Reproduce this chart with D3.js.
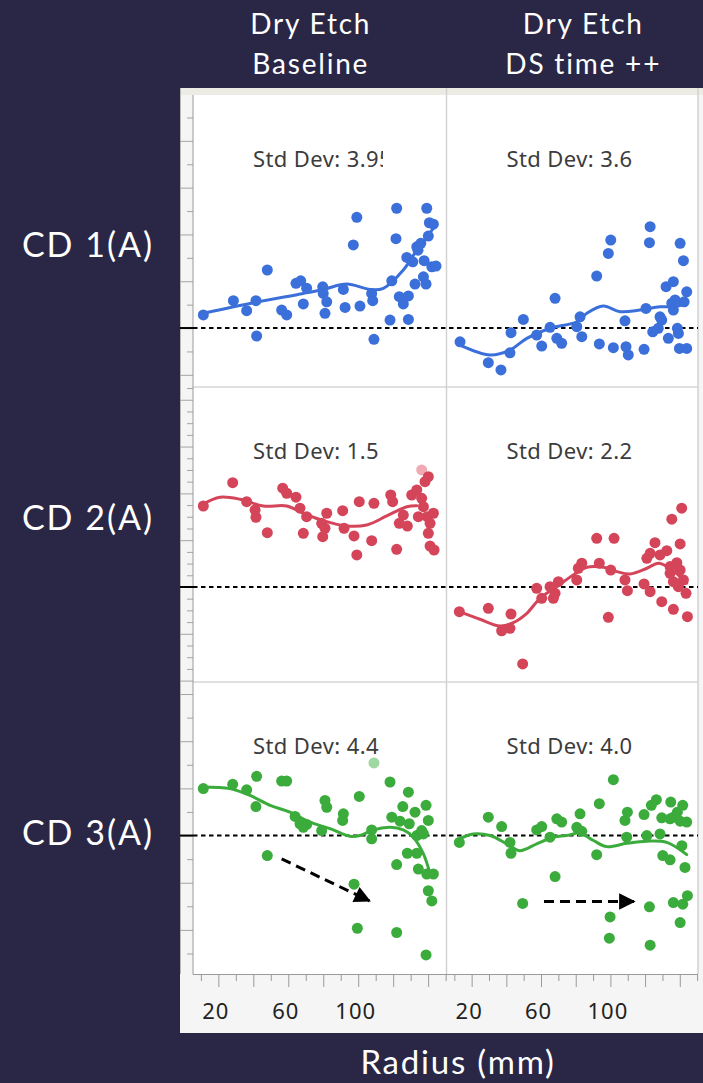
<!DOCTYPE html>
<html>
<head>
<meta charset="utf-8">
<script src="https://cdn.jsdelivr.net/npm/d3@7"></script>
<style>
  html, body { margin: 0; padding: 0; background: #2a2746; }
  svg { display: block; }
</style>
</head>
<body>
<svg id="chart" width="703" height="1083"></svg>
<script>
// ---------- data: radius (mm) vs CD offset from target (A) ----------
const columnTitles = [["Dry Etch", "Baseline"], ["Dry Etch", "DS time ++"]];
const rowTitles = ["CD 1(A)", "CD 2(A)", "CD 3(A)"];
const stdDevLabels = [["3.95", "3.6"], ["1.5", "2.2"], ["4.4", "4.0"]];
const xTickLabels = [20, 60, 100];

const cd1Baseline = [[11.4,0.56],[28.6,1.17],[36.2,0.74],[41.5,1.17],[41.9,-0.34],[48.0,2.48],[56.2,0.77],[59.1,0.56],[64.4,1.91],[67.1,2.02],[70.5,1.70],[68.6,1.03],[79.7,1.76],[80.0,1.48],[82.0,1.12],[81.0,0.63],[91.5,1.65],[92.5,0.88],[99.2,4.73],[97.2,3.55],[101.0,0.94],[107.7,1.48],[108.3,1.17],[109.0,-0.48],[118.2,0.34],[119.2,2.02],[122.0,5.12],[121.6,3.82],[123.5,1.34],[125.8,1.03],[128.7,1.37],[128.7,0.37],[127.8,3.02],[132.5,1.88],[133.5,3.47],[135.8,3.62],[137.3,2.19],[138.8,1.88],[139.2,5.12],[140.7,4.50],[143.0,4.44],[140.1,3.93],[142.1,2.62],[144.5,2.65],[137.7,2.88],[131.2,2.83],[134.2,3.33]];
const cd1BaselineFit = [[11.4,0.63],[40.0,1.08],[68.6,1.48],[80.0,1.65],[93.4,1.88],[106.8,1.65],[114.4,1.70],[125.8,2.48],[133.5,3.33],[139.2,3.90],[143.0,4.26]];

const cd1DsTime = [[13.3,-0.59],[29.6,-1.48],[36.9,-1.79],[42.7,-0.20],[42.1,-1.06],[49.8,0.37],[57.5,-0.30],[60.4,-0.77],[65.2,0.03],[68.1,1.27],[69.1,-0.44],[71.9,-0.65],[80.6,0.06],[82.5,0.48],[83.5,-0.37],[92.1,2.22],[93.6,-0.68],[98.8,3.19],[100.2,3.76],[101.7,-0.84],[108.4,0.31],[109.0,-0.80],[110.3,-1.15],[119.4,-0.91],[120.5,0.84],[122.9,4.33],[122.5,3.65],[124.4,-0.16],[128.6,0.48],[129.6,0.34],[132.1,1.77],[136.3,1.98],[133.4,-0.44],[135.4,1.06],[136.3,0.77],[138.6,-0.01],[139.2,-0.23],[140.2,3.62],[142.1,2.88],[144.0,1.55],[142.5,1.12],[139.8,-0.87],[144.0,-0.87],[127.6,-0.01],[137.3,1.20]];
const cd1DsTimeFit = [[13.3,-0.73],[30.6,-1.15],[42.1,-0.94],[51.8,-0.44],[65.2,-0.01],[80.6,0.27],[86.4,0.63],[95.9,0.94],[105.6,0.70],[117.1,0.77],[128.6,0.91],[136.3,0.91],[144.0,1.06]];

const cd2Baseline = [[11.4,6.92],[28.2,8.91],[36.2,7.29],[41.0,6.58],[41.5,5.96],[48.0,4.64],[56.8,8.44],[59.1,8.01],[64.4,7.67],[66.7,6.73],[68.6,4.59],[70.5,6.01],[79.1,5.44],[82.0,6.30],[81.0,5.02],[79.7,4.30],[91.1,6.52],[91.9,5.02],[97.6,4.36],[99.2,2.74],[100.6,7.29],[107.7,3.96],[109.0,7.15],[118.6,7.86],[119.7,7.29],[122.0,3.22],[123.5,5.44],[125.8,6.15],[128.1,5.21],[130.6,7.86],[133.5,8.29],[136.3,7.58],[138.2,9.00],[140.1,9.43],[137.3,6.86],[139.5,6.01],[143.0,6.30],[141.1,5.44],[140.1,4.59],[141.1,3.50],[143.4,3.16],[134.4,6.01]];
const cd2BaselineExcluded = [[136.3,10.0]];
const cd2BaselineFit = [[11.4,7.09],[20.9,7.67],[32.4,7.50],[45.7,6.92],[59.1,6.92],[68.6,6.30],[80.0,5.67],[93.4,5.21],[104.9,5.30],[116.3,6.07],[127.8,6.86],[133.5,6.94]];

const cd2DsTime = [[12.9,-2.11],[29.6,-1.82],[37.3,-3.74],[42.7,-2.31],[42.1,-3.53],[49.4,-6.58],[57.5,-0.11],[60.4,-0.97],[65.2,0.03],[68.1,-0.54],[70.0,0.45],[67.1,-0.97],[80.6,0.60],[81.5,1.60],[83.5,2.03],[92.1,4.16],[93.6,2.03],[98.8,-2.59],[100.2,1.45],[102.1,4.16],[108.4,0.60],[109.8,-0.32],[119.4,0.26],[122.9,-0.40],[121.0,2.45],[125.7,3.79],[122.9,2.88],[128.6,2.74],[132.5,3.10],[129.6,-1.26],[136.3,-1.91],[135.4,5.79],[141.1,6.73],[140.2,3.68],[138.3,2.08],[134.4,1.17],[136.3,0.45],[140.2,1.45],[142.1,0.60],[143.6,-0.54],[144.4,-2.54],[134.4,1.74],[139.2,0.03]];
const cd2DsTimeFit = [[12.9,-2.11],[24.8,-2.76],[36.4,-3.33],[44.0,-3.05],[51.8,-2.25],[59.4,-0.97],[69.1,0.03],[78.6,1.03],[86.4,1.68],[95.9,1.68],[103.7,1.31],[111.3,1.11],[121.0,1.60],[127.6,2.03],[134.4,1.60],[140.2,0.88],[144.0,0.32]];

const cd3Baseline = [[11.4,1.99],[28.2,2.17],[36.2,1.94],[41.9,2.51],[41.5,1.23],[48.0,-0.85],[56.2,2.31],[59.1,2.31],[63.9,0.81],[66.7,0.50],[68.6,0.35],[70.5,0.47],[79.1,0.21],[81.0,1.49],[82.0,1.20],[91.5,0.92],[91.1,0.64],[97.6,-2.06],[99.5,-3.93],[100.6,1.66],[107.7,0.24],[107.7,-0.14],[118.2,2.27],[119.2,0.78],[122.0,-1.23],[122.0,-4.11],[125.5,1.23],[123.9,0.61],[128.7,1.84],[128.1,-0.75],[129.2,0.50],[132.5,0.99],[133.5,0.00],[138.8,1.28],[140.1,0.64],[134.4,-1.42],[137.3,0.07],[139.2,-1.63],[143.0,-1.63],[140.1,-2.34],[142.1,-2.77],[138.8,-5.06],[133.5,-0.75],[136.3,0.21]];
const cd3BaselineExcluded = [[109.0,3.08]];
const cd3BaselineFit = [[11.4,2.06],[26.7,1.99],[38.1,1.70],[49.6,1.28],[61.0,0.99],[72.4,0.57],[83.9,0.29],[95.3,-0.03],[101.0,0.0],[108.6,0.24],[118.2,0.35],[125.8,0.24],[131.5,-0.07],[137.3,-0.78],[141.1,-1.63]];

const cd3DsTime = [[12.9,-0.29],[29.6,0.78],[37.3,0.38],[42.1,-0.29],[42.7,-0.75],[49.4,-2.88],[57.5,0.24],[60.4,0.38],[65.2,-0.07],[68.1,-1.74],[69.1,0.71],[71.9,0.57],[82.5,0.92],[80.6,0.35],[83.5,0.18],[92.1,-0.81],[93.6,1.35],[99.8,-3.45],[99.4,-4.35],[101.7,2.37],[108.4,0.64],[109.8,0.99],[109.4,-0.07],[119.4,0.89],[121.0,0.0],[122.5,-3.02],[122.9,-4.65],[123.6,1.28],[126.5,1.52],[129.6,0.75],[128.6,0.07],[130.2,-0.85],[134.4,-1.03],[134.8,1.42],[136.3,0.78],[138.6,0.99],[141.7,1.28],[140.2,0.61],[144.0,0.57],[141.2,-0.43],[143.0,-1.35],[136.3,-2.84],[141.7,-2.91],[144.4,-2.55],[140.2,-3.69],[134.4,0.71]];
const cd3DsTimeFit = [[12.9,-0.14],[21.0,0.07],[30.6,0.0],[40.2,-0.35],[47.9,-0.64],[57.5,-0.35],[67.1,-0.07],[74.8,0.0],[82.5,0.10],[90.2,-0.21],[97.9,-0.47],[109.4,-0.33],[121.0,-0.24],[132.5,-0.29],[144.0,-0.81]];

// trend arrows drawn on the CD 3 row: [from, to] in data units
const cd3BaselineArrow = [[56.2,-0.99],[106.4,-2.77]];
const cd3DsTimeArrow = [[61.7,-2.80],[113.6,-2.80]];

// ---------- layout ----------
const rowColors = ["#3b6fd9", "#d5455a", "#3bab3c"];
const rowFade = ["#a9c0ef", "#f1aab4", "#9fd8a0"];
const frame = { left: 180, top: 88, right: 703, bottom: 1033 };
const colEdges = [193, 446.5, 698];
const rowEdges = [95, 387, 682, 974];
const xDomain = [5.5, 150.5];
const yDomains = [[-2.52, 9.96], [-8.12, 17.09], [-5.87, 6.51]];
const yMinorStep = [1, 1, 1];
const yMajorStep = [2, 4, 2];
const rowLabelY = [245, 518, 833];

const panels = [
  [{ pts: cd1Baseline, fit: cd1BaselineFit }, { pts: cd1DsTime, fit: cd1DsTimeFit }],
  [{ pts: cd2Baseline, fit: cd2BaselineFit, faded: cd2BaselineExcluded }, { pts: cd2DsTime, fit: cd2DsTimeFit }],
  [{ pts: cd3Baseline, fit: cd3BaselineFit, faded: cd3BaselineExcluded, arrow: cd3BaselineArrow },
   { pts: cd3DsTime, fit: cd3DsTimeFit, arrow: cd3DsTimeArrow }]
];

const svg = d3.select("#chart");
const headFont = "Lato, 'Open Sans', sans-serif";
const plotFont = "'Noto Sans', 'Open Sans', sans-serif";

svg.append("rect").attr("width", 703).attr("height", 1083).attr("fill", "#2a2746");

const defs = svg.append("defs");
defs.append("marker").attr("id", "arrowHead")
  .attr("viewBox", "0 0 10 10").attr("refX", 9).attr("refY", 5)
  .attr("markerWidth", 6).attr("markerHeight", 5.5).attr("markerUnits", "strokeWidth")
  .attr("orient", "auto")
  .append("path").attr("d", "M0,0 L10,5 L0,10 Z").attr("fill", "#000");

// chart frame
svg.append("rect").attr("x", frame.left).attr("y", frame.top)
  .attr("width", frame.right - frame.left).attr("height", frame.bottom - frame.top)
  .attr("fill", "#f5f5f5");
svg.append("rect").attr("x", colEdges[0]).attr("y", rowEdges[0])
  .attr("width", colEdges[2] - colEdges[0]).attr("height", rowEdges[3] - rowEdges[0])
  .attr("fill", "#ffffff");
svg.append("rect").attr("x", frame.left).attr("y", frame.top)
  .attr("width", frame.right - frame.left).attr("height", rowEdges[0] - frame.top)
  .attr("fill", "#ecebe4");
svg.append("line").attr("x1", frame.left + 0.5).attr("x2", frame.left + 0.5)
  .attr("y1", frame.top).attr("y2", rowEdges[3]).attr("stroke", "#b8b8b8");

// grid dividers
[rowEdges[1], rowEdges[2]].forEach(y => {
  svg.append("line").attr("x1", colEdges[0]).attr("x2", colEdges[2])
    .attr("y1", y).attr("y2", y).attr("stroke", "#d6d6d6").attr("stroke-width", 1.5);
});
[colEdges[1], colEdges[2]].forEach(x => {
  svg.append("line").attr("x1", x).attr("x2", x)
    .attr("y1", frame.top).attr("y2", rowEdges[3]).attr("stroke", "#d2d2d2").attr("stroke-width", 1.5);
});

// x scales, one per column; y scales, one per row
const xScales = [0, 1].map(c => d3.scaleLinear().domain(xDomain).range([colEdges[c], colEdges[c + 1]]));
const yScales = [0, 1, 2].map(r => d3.scaleLinear().domain(yDomains[r]).range([rowEdges[r + 1], rowEdges[r]]));

// y axes (unlabelled ticks in the left strip)
yScales.forEach((y, r) => {
  const [lo, hi] = yDomains[r];
  const minor = d3.range(Math.ceil(lo), hi, yMinorStep[r]).filter(v => v % yMajorStep[r] !== 0);
  const major = d3.range(Math.ceil(lo / yMajorStep[r]) * yMajorStep[r], hi, yMajorStep[r]);
  const gMinor = svg.append("g").attr("transform", `translate(${colEdges[0]},0)`)
    .call(d3.axisLeft(y).tickValues(minor).tickSize(6).tickFormat(""));
  const gMajor = svg.append("g").attr("transform", `translate(${colEdges[0]},0)`)
    .call(d3.axisLeft(y).tickValues(major).tickSize(13).tickFormat(""));
  [gMinor, gMajor].forEach(g => {
    g.select(".domain").remove();
    g.selectAll(".tick line").attr("stroke", "#a4a4a4");
  });
});
svg.append("line").attr("x1", colEdges[0]).attr("x2", colEdges[0])
  .attr("y1", rowEdges[0]).attr("y2", rowEdges[3] + 0.5).attr("stroke", "#9a9a9a");

// x axes
xScales.forEach(x => {
  const minor = d3.range(10, 151, 20);
  const major = d3.range(20, 151, 20);
  const gMinor = svg.append("g").attr("transform", `translate(0,${rowEdges[3]})`)
    .call(d3.axisBottom(x).tickValues(minor).tickSize(7).tickFormat(""));
  const gMajor = svg.append("g").attr("transform", `translate(0,${rowEdges[3]})`)
    .call(d3.axisBottom(x).tickValues(major).tickSize(13).tickPadding(16)
      .tickFormat(d => xTickLabels.includes(d) ? d : ""));
  [gMinor, gMajor].forEach(g => {
    g.select(".domain").remove();
    g.selectAll(".tick line").attr("stroke", "#9a9a9a");
  });
  gMajor.selectAll(".tick text")
    .attr("font-family", plotFont).attr("font-size", 22).attr("fill", "#222")
    .attr("letter-spacing", 1).attr("dx", -3);
});
svg.append("line").attr("x1", colEdges[0]).attr("x2", colEdges[2])
  .attr("y1", rowEdges[3] + 0.5).attr("y2", rowEdges[3] + 0.5).attr("stroke", "#9a9a9a");

// reference (target) line for each row across both columns
yScales.forEach(y => {
  svg.append("line").attr("x1", frame.left).attr("x2", colEdges[0])
    .attr("y1", y(0)).attr("y2", y(0)).attr("stroke", "#000").attr("stroke-width", 2);
  svg.append("line").attr("x1", colEdges[0]).attr("x2", colEdges[2])
    .attr("y1", y(0)).attr("y2", y(0)).attr("stroke", "#000").attr("stroke-width", 2)
    .attr("stroke-dasharray", "4.5,3.5");
});

// panels
panels.forEach((rowPanels, r) => {
  rowPanels.forEach((p, c) => {
    const x = xScales[c], y = yScales[r];
    const clipId = `clip-${r}-${c}`;
    defs.append("clipPath").attr("id", clipId).append("rect")
      .attr("x", colEdges[c]).attr("y", rowEdges[r])
      .attr("width", colEdges[c + 1] - colEdges[c]).attr("height", rowEdges[r + 1] - rowEdges[r]);
    const g = svg.append("g").attr("clip-path", `url(#${clipId})`);

    // std dev annotation, clipped to its text box
    const labelClip = `lab-${r}-${c}`;
    defs.append("clipPath").attr("id", labelClip).append("rect")
      .attr("x", colEdges[c]).attr("y", rowEdges[r])
      .attr("width", 190).attr("height", 120);
    g.append("text")
      .attr("clip-path", `url(#${labelClip})`)
      .attr("x", colEdges[c] + 60).attr("y", rowEdges[r] + 72)
      .attr("font-family", plotFont).attr("font-size", 22).attr("fill", "#3c3c3c")
      .attr("letter-spacing", 0.4)
      .text(`Std Dev: ${stdDevLabels[r][c]}`);

    if (p.faded) {
      g.selectAll("circle.faded").data(p.faded).join("circle").attr("class", "faded")
        .attr("cx", d => x(d[0])).attr("cy", d => y(d[1])).attr("r", 5.5)
        .attr("fill", rowFade[r]);
    }

    g.append("path").datum(p.fit)
      .attr("d", d3.line().x(d => x(d[0])).y(d => y(d[1])).curve(d3.curveCatmullRom.alpha(0.5)))
      .attr("fill", "none").attr("stroke", rowColors[r]).attr("stroke-width", 3)
      .attr("stroke-linecap", "round");

    g.selectAll("circle.pt").data(p.pts).join("circle").attr("class", "pt")
      .attr("cx", d => x(d[0])).attr("cy", d => y(d[1])).attr("r", 5.5)
      .attr("fill", rowColors[r]);

    if (p.arrow) {
      g.append("line")
        .attr("x1", x(p.arrow[0][0])).attr("y1", y(p.arrow[0][1]))
        .attr("x2", x(p.arrow[1][0])).attr("y2", y(p.arrow[1][1]))
        .attr("stroke", "#000").attr("stroke-width", 3)
        .attr("stroke-dasharray", "10,6")
        .attr("marker-end", "url(#arrowHead)");
    }
  });
});

// column headers
columnTitles.forEach((lines, c) => {
  const cx = (colEdges[c] + colEdges[c + 1]) / 2 + (c === 0 ? -9 : 11);
  lines.forEach((t, i) => {
    svg.append("text").attr("x", cx).attr("y", 34 + i * 40)
      .attr("text-anchor", "middle").attr("font-family", headFont)
      .attr("font-size", 28).attr("letter-spacing", 1.8).attr("fill", "#ffffff").text(t);
  });
});

// row headers
rowTitles.forEach((t, r) => {
  svg.append("text").attr("x", 88).attr("y", rowLabelY[r] + 12)
    .attr("text-anchor", "middle").attr("font-family", headFont)
    .attr("font-size", 34).attr("letter-spacing", 2).attr("fill", "#ffffff").text(t);
});

// x axis title
svg.append("text").attr("x", 458).attr("y", 1074)
  .attr("text-anchor", "middle").attr("font-family", headFont)
  .attr("font-size", 33).attr("letter-spacing", 1.8).attr("fill", "#ffffff").text("Radius (mm)");
</script>
</body>
</html>
